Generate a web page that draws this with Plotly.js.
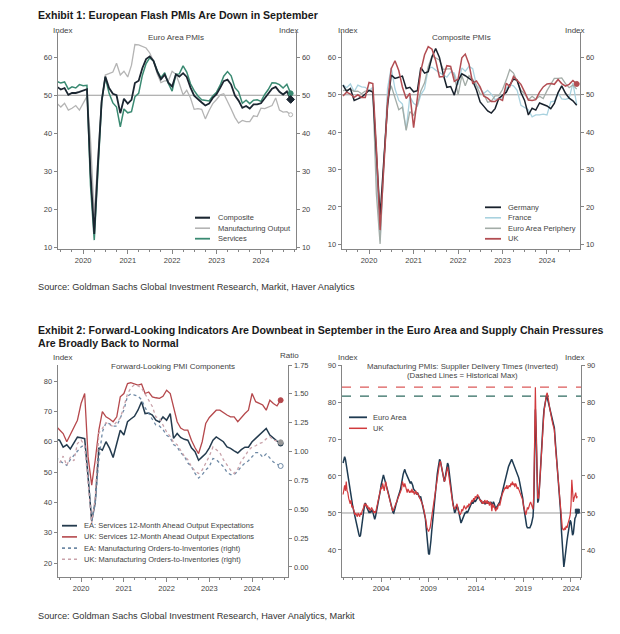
<!DOCTYPE html>
<html><head><meta charset="utf-8">
<script src="https://cdn.plot.ly/plotly-3.0.1.min.js"></script>
<style>html,body{margin:0;padding:0;background:#fff}#chart{width:620px;height:634px}</style>
</head><body><div id="chart"></div>
<script>
// ---------------- DATA ----------------
// Exhibit 1 (left): Euro Area PMIs, monthly Jun 2019 - Sep 2024
const p1Start = '2019-06';
const eaComposite = [52.2,51.5,51.9,50.1,50.6,50.6,50.9,
  51.3,51.6,29.7,13.6,31.9,48.5,54.9,51.9,50.4,50.0,45.3,49.1,
  47.8,48.8,53.2,53.8,57.1,59.5,60.2,59.0,56.2,54.2,55.4,53.3,
  52.3,55.5,54.9,55.8,54.8,52.0,49.9,48.9,48.1,47.3,47.8,49.3,
  50.3,52.0,53.7,54.1,52.8,49.9,48.6,46.7,47.2,46.5,47.6,47.6,
  47.9,49.2,50.3,51.7,52.2,50.9,50.2,51.0,48.9];
const eaMfgOutput = [47.8,46.9,47.9,46.1,46.6,47.3,46.1,
  48.0,49.7,38.5,18.4,33.6,49.0,55.3,55.6,56.1,58.4,55.3,56.3,
  54.8,57.9,63.3,63.2,62.8,62.4,61.1,59.0,55.6,53.3,53.8,53.8,
  56.3,55.5,53.1,50.1,51.3,49.3,46.3,46.5,46.3,43.8,46.0,47.8,
  48.9,50.1,50.4,48.5,46.4,44.2,42.7,43.4,43.1,43.1,44.6,44.4,
  46.6,46.5,46.9,47.3,49.3,46.1,45.6,45.7,44.9];
const eaServices = [53.6,53.2,53.5,51.6,52.2,51.9,52.8,
  52.5,52.6,26.4,12.0,30.5,48.3,54.7,50.5,48.0,46.9,41.7,46.4,
  45.4,45.7,49.6,50.5,55.2,58.3,59.8,59.0,56.4,54.6,55.9,53.1,
  51.1,55.5,55.6,57.7,56.1,53.0,51.2,49.8,48.8,48.6,48.5,49.8,
  50.8,52.7,55.0,56.2,55.1,52.0,50.9,47.9,48.7,47.8,48.7,48.8,
  48.4,50.2,51.5,53.3,53.2,52.8,51.9,52.9,50.5];

// Exhibit 1 (right): Composite PMIs, monthly Jun 2019 - Sep 2024
const p2Start = '2019-06';
const germany = [52.6,50.9,51.7,48.5,48.9,49.4,50.2,
  51.2,50.7,35.0,17.4,32.3,47.0,55.3,54.4,54.7,55.0,51.7,52.0,
  50.8,51.1,57.3,55.8,56.2,60.1,62.4,60.0,55.5,52.0,52.2,49.9,
  53.8,55.6,55.1,54.3,53.7,51.3,48.1,46.9,45.7,45.1,46.3,49.0,
  49.9,50.7,52.6,54.2,53.9,50.6,48.5,44.6,46.4,45.9,47.8,47.4,
  47.0,46.3,47.7,50.6,52.4,50.4,49.1,48.4,47.2];
const france = [52.7,51.9,52.9,50.8,52.6,52.1,52.0,
  51.1,52.0,28.9,11.1,32.1,51.7,57.3,51.6,48.5,47.5,40.6,49.5,
  47.7,47.0,50.0,51.6,57.0,57.4,56.6,55.9,55.3,54.7,56.1,55.8,
  52.7,57.2,56.3,57.6,57.0,52.5,51.7,50.4,51.2,50.2,48.7,49.1,
  49.1,51.7,52.7,52.4,51.2,47.2,46.6,46.0,44.1,44.6,44.6,44.8,
  44.6,48.1,48.3,50.5,48.9,48.8,49.1,53.1,47.4];
const periphery = [51.1,51.4,51.5,50.9,51.0,50.3,51.0,
  51.0,51.3,23.5,10.1,31.5,48.7,52.4,49.1,46.0,46.7,40.5,45.5,
  44.5,47.3,51.0,53.2,57.5,60.4,59.9,59.3,56.8,56.9,57.0,55.1,
  50.0,55.1,52.4,55.1,54.1,52.5,50.2,50.1,48.0,48.3,49.7,49.8,
  51.4,54.0,56.7,55.8,53.6,51.2,50.3,48.7,49.6,48.8,49.6,49.0,
  51.1,52.9,54.4,54.4,54.5,53.0,51.9,52.6,51.5];
const ukComposite = [49.7,50.7,50.2,49.3,50.0,49.3,49.3,
  53.3,53.0,36.0,13.8,30.0,47.7,57.0,59.1,56.5,52.1,49.0,50.4,
  41.2,49.6,56.4,60.7,62.9,62.2,59.2,54.8,54.9,57.8,57.6,53.6,
  54.2,59.9,60.9,58.2,53.1,53.7,52.1,49.6,49.1,48.2,48.2,49.0,
  48.5,53.1,52.2,54.9,54.0,52.8,50.8,48.6,48.5,48.7,50.7,52.1,
  52.9,53.0,52.8,54.1,53.0,52.3,52.8,53.8,52.9];

// Exhibit 2 (left): Forward-looking PMI components, monthly Jun 2019 - Sep 2024
const p3Start = '2019-06';
const eaServExp = [60.9,60.5,58.2,59.0,57.6,59.5,61.5,
  61.3,61.0,48.4,33.8,40.0,58.0,57.2,60.0,57.8,54.8,59.4,63.8,
  62.2,66.6,67.5,68.4,70.4,73.2,69.3,69.5,68.8,67.1,66.5,68.2,
  67.1,69.3,61.1,62.7,61.4,60.8,60.5,58.0,56.7,53.9,55.0,56.1,
  58.0,60.5,61.6,60.8,60.0,58.3,57.8,57.0,56.3,57.4,58.2,58.2,
  60.0,61.1,62.2,63.3,64.4,62.2,61.1,60.2,59.4];
const ukServExp = [65.1,64.0,62.7,60.0,62.2,64.5,67.1,
  72.6,75.9,55.0,45.7,53.9,63.8,69.9,68.2,67.5,66.6,68.2,74.8,
  75.9,79.2,79.5,79.0,78.7,79.0,75.9,76.4,74.8,74.5,74.3,75.0,
  77.0,75.9,71.5,66.6,64.5,63.8,63.8,60.5,58.0,56.1,60.0,66.0,
  68.0,69.3,70.4,70.4,69.5,68.8,68.2,68.2,66.6,68.0,69.3,70.4,
  75.9,73.2,72.6,72.1,70.4,73.7,72.6,71.8,73.7];
const eaOrdInv = [0.95,0.92,0.90,0.88,0.93,0.97,1.00,
  1.04,1.06,0.80,0.39,0.55,0.93,1.17,1.25,1.24,1.22,1.22,1.29,
  1.36,1.48,1.50,1.49,1.48,1.45,1.38,1.33,1.28,1.23,1.22,1.19,
  1.14,1.12,1.06,1.04,0.99,0.96,0.90,0.87,0.81,0.77,0.80,0.84,
  0.87,0.94,0.93,0.90,0.87,0.82,0.80,0.80,0.83,0.87,0.90,0.92,
  0.96,0.99,0.99,0.95,0.98,0.94,0.91,0.89,0.875];
const ukOrdInv = [0.94,0.90,0.96,0.88,0.95,0.92,1.07,
  1.10,1.05,0.70,0.38,0.60,1.16,1.20,1.25,1.23,1.22,1.26,1.29,
  1.39,1.50,1.55,1.58,1.57,1.55,1.50,1.44,1.39,1.30,1.29,1.23,
  1.17,1.13,1.08,1.06,1.01,0.96,0.93,0.87,0.83,0.81,0.84,0.90,
  0.96,1.04,1.02,0.99,0.93,0.88,0.84,0.81,0.85,0.92,0.96,1.01,
  1.04,1.05,1.07,1.08,1.11,1.13,1.10,1.09,1.08];

// Exhibit 2 (right): Supplier delivery times (inverted), monthly Jan 2000 - Sep 2024
const p4Start = '2000-01';
const eaSdt = [
  63.5,64.5,65.2,64.5,63.0,61.5,60.0,58.5,57.0,56.0,55.0,53.5,
  52.0,51.0,50.0,49.0,48.0,47.0,46.0,45.0,44.2,43.6,44.0,45.5,
  47.5,49.5,51.0,52.0,52.7,52.3,51.5,51.0,50.5,50.0,50.5,50.2,
  50.5,51.0,50.0,49.0,48.3,49.0,50.0,51.0,52.0,53.0,54.5,56.0,
  57.5,58.5,59.5,60.3,59.5,58.5,57.5,57.0,56.3,55.5,54.5,53.5,
  52.5,51.5,50.8,50.2,50.0,50.6,51.5,52.5,53.0,54.0,54.5,55.2,
  56.0,57.0,58.5,59.5,60.5,61.2,61.8,61.0,60.5,60.0,59.5,58.8,
  58.5,58.0,58.5,58.0,57.5,56.5,56.0,56.0,55.5,55.0,55.5,55.0,
  54.5,54.0,54.5,53.5,52.5,52.0,51.0,50.0,48.5,46.0,43.5,41.0,
  39.0,38.8,40.0,42.5,45.0,47.5,50.0,52.0,54.0,56.5,58.5,60.5,
  62.0,63.5,64.5,64.0,63.0,61.5,60.0,59.0,58.5,59.5,61.0,62.5,
  63.5,63.0,61.0,59.0,57.0,55.5,54.0,52.5,51.0,50.0,50.5,51.5,
  52.0,51.5,50.5,49.0,48.0,47.3,47.8,48.5,49.0,49.5,50.0,50.0,
  50.5,50.0,50.5,51.0,51.5,52.0,52.5,53.0,52.5,53.0,53.5,53.0,
  53.5,54.0,54.5,54.5,54.0,53.5,53.5,53.0,52.5,53.0,53.0,52.5,
  52.5,53.0,52.5,53.0,53.0,52.5,52.5,53.0,52.0,52.5,53.0,52.5,
  51.5,51.0,51.5,52.0,52.5,53.0,53.0,54.0,54.5,55.5,56.5,57.5,
  58.0,59.0,60.0,61.0,62.0,62.5,63.0,63.5,64.0,64.5,64.0,63.5,
  63.0,62.5,62.0,61.0,60.5,60.0,59.5,58.5,57.5,56.5,55.5,54.0,
  52.0,50.5,48.5,47.0,46.5,46.0,46.0,45.8,46.0,46.5,47.0,48.0,
  49.0,53.0,68.0,78.0,72.0,60.0,52.8,53.5,56.0,60.0,64.0,69.0,
  73.0,75.5,78.0,79.5,81.0,81.6,81.2,80.5,79.5,78.5,77.5,76.5,
  76.0,75.0,73.5,73.0,70.0,67.0,65.0,62.5,60.0,57.5,54.0,50.0,
  45.0,40.5,37.0,35.4,37.0,39.5,41.5,42.5,44.0,45.5,46.5,48.0,
  47.5,45.0,44.0,44.5,47.0,48.5,49.0,50.0,50.5];
const ukSdt = [
  55.0,56.0,57.5,56.0,58.5,56.0,55.5,54.0,53.0,52.5,53.5,51.5,
  52.0,51.0,50.5,49.5,50.0,49.5,49.0,50.0,49.5,49.0,50.0,49.5,
  50.5,51.0,51.5,52.5,52.0,52.5,51.5,52.0,51.0,51.5,50.5,51.0,
  51.5,51.0,50.5,50.0,50.5,50.0,51.0,52.0,53.0,54.0,55.5,56.0,
  57.0,56.5,58.0,57.0,56.0,57.5,58.5,57.0,56.0,55.0,54.0,53.0,
  52.0,51.5,51.0,50.5,51.0,51.5,52.0,53.0,53.5,54.0,54.5,55.0,
  55.5,56.0,56.5,58.5,58.0,57.0,58.0,57.0,56.0,55.5,56.5,56.0,
  55.5,56.0,55.5,56.5,55.5,56.0,55.0,55.5,56.0,55.0,55.5,55.0,
  54.5,54.0,53.5,53.0,52.5,52.0,51.0,50.0,49.0,47.5,46.0,45.5,
  45.0,45.5,46.0,47.5,49.0,50.5,52.0,53.5,55.0,56.5,57.5,59.0,
  60.5,62.0,63.5,64.0,63.0,61.5,60.0,59.0,58.5,59.0,60.5,62.0,
  62.5,61.0,59.5,58.0,56.0,54.5,53.0,52.0,51.5,51.0,51.5,52.0,
  52.5,51.0,50.5,50.0,49.5,50.0,51.0,50.5,51.5,52.0,51.5,51.0,
  51.5,52.0,51.5,52.5,52.0,52.5,53.0,53.5,53.0,54.0,53.5,54.5,
  54.0,54.5,55.0,54.5,54.0,53.5,53.0,53.5,52.5,53.0,52.5,53.5,
  53.0,52.5,53.5,52.5,53.0,52.0,53.0,52.5,50.5,52.5,51.5,52.0,
  51.0,50.5,51.5,51.0,52.0,52.5,52.0,53.5,54.0,55.0,55.5,56.0,
  56.5,57.0,56.5,57.5,56.5,57.0,57.5,57.0,58.0,57.5,58.5,57.5,
  58.0,57.0,58.0,57.5,56.5,57.0,56.5,56.0,55.5,55.0,54.5,53.5,
  52.0,51.0,50.0,49.5,50.5,51.5,51.0,52.0,52.5,53.0,52.5,52.0,
  51.0,55.0,70.0,84.0,72.0,60.0,54.0,54.0,56.0,60.0,64.0,68.0,
  72.0,75.0,77.5,79.0,81.0,82.0,82.5,81.5,80.0,78.5,77.0,76.0,
  75.0,74.0,73.0,72.5,69.0,66.5,64.0,61.5,59.0,56.0,53.5,51.0,
  47.5,46.0,45.5,45.4,46.0,45.5,46.5,46.0,47.0,47.5,48.5,49.5,
  52.0,59.0,55.0,53.0,54.0,55.0,55.5,54.0,54.5];

// ---------------- HELPERS ----------------
function months(start, n) {
  const [y, m] = start.split('-').map(Number);
  const out = [];
  for (let i = 0; i < n; i++) {
    const mm = m - 1 + i;
    out.push((y + Math.floor(mm / 12)) + '-' + String(mm % 12 + 1).padStart(2, '0') + '-01');
  }
  return out;
}
const W = 620, H = 634;
const fx = v => v / W, fy = v => 1 - v / H;
const FONT = 'Liberation Sans, Arial, sans-serif';
const AX = '#858585', TXT = '#444';

const d1 = months(p1Start, eaComposite.length);
const d2 = months(p2Start, germany.length);
const d3 = months(p3Start, eaServExp.length);
const d4 = months(p4Start, eaSdt.length);
const last = a => a[a.length - 1];

function line(x, y, name, color, width, xa, ya, dash) {
  return {type: 'scatter', mode: 'lines', x: x, y: y, name: name, xaxis: xa, yaxis: ya,
    line: {color: color, width: width, dash: dash || 'solid'}, showlegend: false, hoverinfo: 'skip'};
}
function endMark(x, y, color, xa, ya, symbol, fill, size) {
  return {type: 'scatter', mode: 'markers', x: [last(x)], y: [last(y)], xaxis: xa, yaxis: ya,
    marker: {color: fill || color, size: size || 5, symbol: symbol || 'circle', line: {color: color, width: 1}},
    showlegend: false, hoverinfo: 'skip'};
}

// styles
const S1 = {comp: ['Composite', '#1b2631', 1.8], mfg: ['Manufacturing Output', '#b4b4b4', 1.3], serv: ['Services', '#3a8a72', 1.5]};
const S2 = {de: ['Germany', '#18212c', 1.5], fr: ['France', '#a9d2df', 1.3], pe: ['Euro Area Periphery', '#a3aca7', 1.3], uk: ['UK', '#b24d52', 1.5]};
const S3 = {ea: ['EA: Services 12-Month Ahead Output Expectations', '#243b4e', 1.5],
  uk: ['UK: Services 12-Month Ahead Output Expectations', '#b5484c', 1.3],
  eao: ['EA: Manufacturing Orders-to-Inventories (right)', '#6f8aa6', 1.3],
  uko: ['UK: Manufacturing Orders-to-Inventories (right)', '#c9a2aa', 1.3]};
const S4 = {ea: ['Euro Area', '#1f3b52', 1.5], uk: ['UK', '#d13a3d', 1.2]};

const traces = [
  line(d1, eaMfgOutput, S1.mfg[0], S1.mfg[1], S1.mfg[2], 'x', 'y'),
  line(d1, eaServices, S1.serv[0], S1.serv[1], S1.serv[2], 'x', 'y'),
  line(d1, eaComposite, S1.comp[0], S1.comp[1], S1.comp[2], 'x', 'y'),
  endMark(d1, eaMfgOutput, '#b4b4b4', 'x', 'y2', 'circle', '#fff', 4),
  endMark(d1, eaServices, S1.serv[1], 'x', 'y2'),
  endMark(d1, eaComposite, S1.comp[1], 'x', 'y2', 'diamond', null, 6),

  line(d2, france, S2.fr[0], S2.fr[1], S2.fr[2], 'x2', 'y3'),
  line(d2, periphery, S2.pe[0], S2.pe[1], S2.pe[2], 'x2', 'y3'),
  line(d2, germany, S2.de[0], S2.de[1], S2.de[2], 'x2', 'y3'),
  line(d2, ukComposite, S2.uk[0], S2.uk[1], S2.uk[2], 'x2', 'y3'),
  endMark(d2, ukComposite, S2.uk[1], 'x2', 'y4'),

  line(d3, eaOrdInv, S3.eao[0], S3.eao[1], S3.eao[2], 'x3', 'y6', 'dot'),
  line(d3, ukOrdInv, S3.uko[0], S3.uko[1], S3.uko[2], 'x3', 'y6', 'dot'),
  line(d3, ukServExp, S3.uk[0], S3.uk[1], S3.uk[2], 'x3', 'y5'),
  line(d3, eaServExp, S3.ea[0], S3.ea[1], S3.ea[2], 'x3', 'y5'),
  endMark(d3, eaOrdInv, S3.eao[1], 'x3', 'y6', 'circle', '#fff', 5),
  endMark(d3, ukOrdInv, '#999', 'x3', 'y6'),
  endMark(d3, ukServExp, S3.uk[1], 'x3', 'y5'),
  endMark(d3, eaServExp, S3.ea[1], 'x3', 'y5'),

  line(d4, eaSdt, S4.ea[0], S4.ea[1], S4.ea[2], 'x4', 'y7'),
  line(d4, ukSdt, S4.uk[0], S4.uk[1], S4.uk[2], 'x4', 'y7'),
  endMark(d4, eaSdt, S4.ea[1], 'x4', 'y8', 'square', null, 4)
];

// ---------------- AXES ----------------
const tickFont = {family: FONT, size: 7.5, color: TXT};
function xAx(dom, range, anchor, dtick, tick0, minor) {
  return {domain: dom, range: range, type: 'date', anchor: anchor, showline: true, linecolor: AX, linewidth: 1.4,
    ticks: 'outside', ticklen: 4, tickcolor: AX, tickwidth: 1, dtick: dtick, tick0: tick0, tickformat: '%Y',
    tickfont: tickFont, showgrid: false, zeroline: false, fixedrange: true,
    minor: {dtick: minor, ticks: 'outside', ticklen: 2, tickcolor: AX, showgrid: false}};
}
function yAx(dom, range, anchor, dtick, extra) {
  return Object.assign({domain: dom, range: range, anchor: anchor, showline: true, linecolor: AX, linewidth: 1.4,
    ticks: 'outside', ticklen: 3, tickcolor: AX, dtick: dtick, tickfont: tickFont, showgrid: false,
    zeroline: false, fixedrange: true}, extra || {});
}
const X1 = [fx(58), fx(296)], X2 = [fx(342), fx(580)], X3 = [fx(58), fx(288)], X4 = [fx(342), fx(581)];
const YT = [fy(249), fy(32)], YB = [fy(577), fy(365)];
const r1 = [9.66, 66.6], r2 = [8.74, 66.8], r5 = [15.4, 85.3], r6 = [-0.087, 1.75], r7 = [32.7, 90];

const layout = {
  width: W, height: H, margin: {l: 0, r: 0, t: 0, b: 0}, paper_bgcolor: '#fff', plot_bgcolor: '#fff',
  showlegend: false, font: {family: FONT, color: TXT},
  xaxis: xAx(X1, ['2019-06-08', '2024-10-15'], 'y', 'M12', '2020-01-01', 'M3'),
  yaxis: yAx(YT, r1, 'x', 10),
  yaxis2: yAx(YT, r1, 'x', 10, {overlaying: 'y', side: 'right'}),
  xaxis2: xAx(X2, ['2019-05-24', '2024-09-28'], 'y3', 'M12', '2020-01-01', 'M3'),
  yaxis3: yAx(YT, r2, 'x2', 10),
  yaxis4: yAx(YT, r2, 'x2', 10, {overlaying: 'y3', side: 'right'}),
  xaxis3: xAx(X3, ['2019-06-18', '2024-11-03'], 'y5', 'M12', '2020-01-01', 'M3'),
  yaxis5: yAx(YB, r5, 'x3', 10),
  yaxis6: yAx(YB, r6, 'x3', 0.25, {overlaying: 'y5', side: 'right', tickformat: '.2f'}),
  xaxis4: xAx(X4, ['1999-11-20', '2025-01-20'], 'y7', 'M60', '2004-01-01', 'M12'),
  yaxis7: yAx(YB, r7, 'x4', 10),
  yaxis8: yAx(YB, r7, 'x4', 10, {overlaying: 'y7', side: 'right'}),
  shapes: [], annotations: []
};

// reference lines
[['x', 'y'], ['x2', 'y3'], ['x4', 'y7']].forEach(([xa, ya]) => {
  layout.shapes.push({type: 'line', xref: xa + ' domain', x0: 0, x1: 1, yref: ya, y0: 50, y1: 50,
    line: {color: '#9a9a9a', width: 1}, layer: 'below'});
});
// historical max dashed lines
layout.shapes.push({type: 'line', xref: 'x4 domain', x0: 0, x1: 1, yref: 'y7', y0: Math.max(...ukSdt), y1: Math.max(...ukSdt),
  line: {color: '#dc5a5a', width: 1.3, dash: 'dash'}, layer: 'below'});
layout.shapes.push({type: 'line', xref: 'x4 domain', x0: 0, x1: 1, yref: 'y7', y0: Math.max(...eaSdt), y1: Math.max(...eaSdt),
  line: {color: '#2f6b60', width: 1.3, dash: 'dash'}, layer: 'below'});

// text helper
function txt(x, y, t, size, opts) {
  layout.annotations.push(Object.assign({xref: 'paper', yref: 'paper', x: fx(x), y: fy(y), text: t, showarrow: false,
    xanchor: 'left', yanchor: 'middle', font: {family: FONT, size: size, color: TXT}}, opts || {}));
}
const bold = {family: FONT, size: 10.6, color: '#1a1a1a'};
txt(36, 15, '<b>Exhibit 1: European Flash PMIs Are Down in September</b>', 10.6, {font: bold});
txt(36, 330, '<b>Exhibit 2: Forward-Looking Indicators Are Downbeat in September in the Euro Area and Supply Chain Pressures</b>', 10.6, {font: bold});
txt(36, 343, '<b>Are Broadly Back to Normal</b>', 10.6, {font: bold});
const src = {font: {family: FONT, size: 9.2, color: '#333'}};
txt(36, 287, 'Source: Goldman Sachs Global Investment Research, Markit, Haver Analytics', 9.2, src);
txt(36, 616, 'Source: Goldman Sachs Global Investment Research, Haver Analytics, Markit', 9.2, src);

const c = {xanchor: 'center'};
txt(176, 38, 'Euro Area PMIs', 8, c);
txt(461, 38, 'Composite PMIs', 8, c);
txt(173, 367, 'Forward-Looking PMI Components', 8, c);
txt(462, 366, 'Manufacturing PMIs: Supplier Delivery Times (Inverted)', 7.8, c);
txt(462, 375, '(Dashed Lines = Historical Max)', 7.8, c);
txt(63, 30, 'Index', 8, c); txt(289, 30, 'Index', 8, c);
txt(348, 30, 'Index', 8, c); txt(575, 30, 'Index', 8, c);
txt(63, 357, 'Index', 8, c); txt(289, 356, 'Ratio', 8, c);
txt(348, 357, 'Index', 8, c); txt(575, 357, 'Index', 8, c);

// manual legends
function legend(x0, x1, xt, yFirst, gap, items) {
  items.forEach((it, i) => {
    const y = yFirst + i * gap;
    layout.shapes.push({type: 'line', xref: 'paper', yref: 'paper', x0: fx(x0), x1: fx(x1), y0: fy(y), y1: fy(y),
      line: {color: it[1], width: it[2] + 0.3, dash: it[3] || 'solid'}});
    txt(xt, y, it[0], 7.5);
  });
}
legend(195, 210, 216, 217.7, 10.5, [S1.comp, S1.mfg, S1.serv]);
legend(485, 501, 506, 207.3, 10.5, [S2.de, S2.fr, S2.pe, S2.uk]);
legend(62, 77, 82, 525.7, 11.2, [S3.ea, S3.uk, S3.eao.concat(['dot']), S3.uko.concat(['dot'])]);
legend(349, 367, 371, 417.3, 11, [S4.ea, S4.uk]);

Plotly.newPlot('chart', traces, layout, {staticPlot: true, displayModeBar: false});
</script>
</body></html>
